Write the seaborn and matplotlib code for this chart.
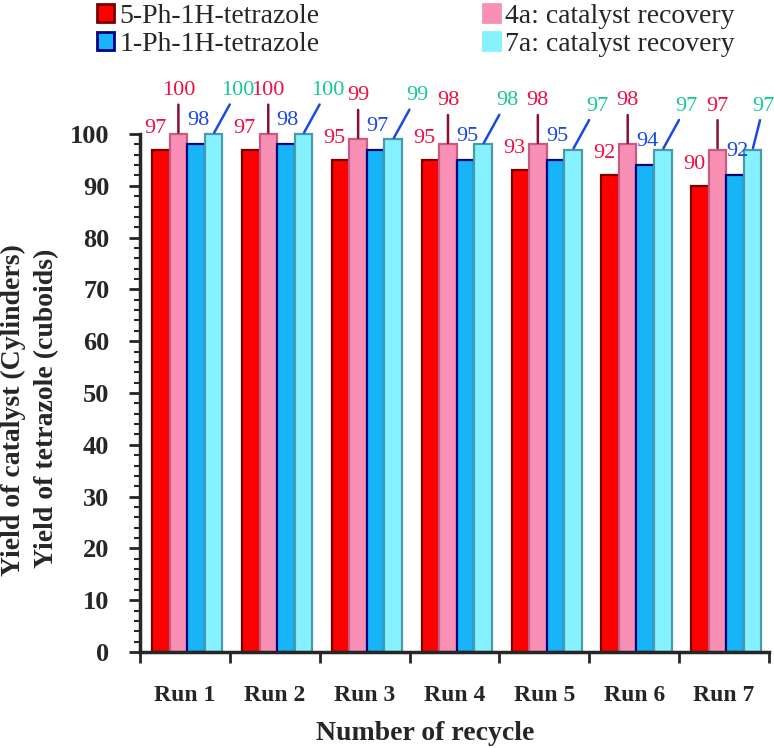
import numpy as np
import pandas as pd
import matplotlib
matplotlib.use("Agg")
import matplotlib.pyplot as plt
from matplotlib.patches import Patch
from matplotlib.ticker import MultipleLocator, FixedLocator
import seaborn as sns

# data
runs = ["Run 1", "Run 2", "Run 3", "Run 4", "Run 5", "Run 6", "Run 7"]
series = ["5-Ph-1H-tetrazole", "4a: catalyst recovery", "1-Ph-1H-tetrazole", "7a: catalyst recovery"]
ph5_tetrazole = [97, 97, 95, 95, 93, 92, 90]
cat_4a = [100, 100, 99, 98, 98, 98, 97]
ph1_tetrazole = [98, 98, 97, 95, 95, 94, 92]
cat_7a = [100, 100, 99, 98, 97, 97, 97]

values = [ph5_tetrazole, cat_4a, ph1_tetrazole, cat_7a]
df = pd.DataFrame({
    "run": runs * 4,
    "series": [s for s in series for _ in runs],
    "yield": [v for vals in values for v in vals],
})

fill = ["#ff0000", "#f790b4", "#18b4f8", "#86f2ff"]
edges = ["#7a0000", "#c85a84", "#000080", "#4a9aaa"]
label_col = ["#ee1045", "#ee1045", "#1a4ae0", "#18c898"]

sns.set_style("ticks")
plt.rcParams["font.family"] = ["Liberation Serif", "DejaVu Serif"]

fig = plt.figure(figsize=(7.74, 7.48), dpi=100)
ax = fig.add_axes([140 / 774, 1 - 652 / 748, 629 / 774, 518 / 748])

sns.barplot(data=df, x="run", y="yield", hue="series", hue_order=series,
            palette=fill, width=0.78, gap=0, legend=False, ax=ax, saturation=1)

for i, cont in enumerate(ax.containers):
    for bar in cont:
        bar.set_x(bar.get_x() + 0.025)
        bar.set_edgecolor(edges[i])
        bar.set_linewidth(1.6)
        bar.set_clip_on(False)

# value labels
for i, cont in enumerate(ax.containers):
    for j, bar in enumerate(cont):
        x = bar.get_x() + bar.get_width() / 2
        h = bar.get_height()
        txt = str(values[i][j])
        if i == 0:
            ax.annotate(txt, (x, h), xytext=(-6, 12), textcoords="offset pixels",
                        ha="center", va="bottom", color=label_col[i], fontsize=16,
                        annotation_clip=False)
        elif i == 2:
            ax.annotate(txt, (x, h), xytext=(2, 14), textcoords="offset pixels",
                        ha="center", va="bottom", color=label_col[i], fontsize=16,
                        annotation_clip=False)
        elif i == 1:
            ax.annotate(txt, (x, h), xytext=(0, 34), textcoords="offset pixels",
                        ha="center", va="bottom", color=label_col[i], fontsize=16,
                        annotation_clip=False,
                        arrowprops=dict(arrowstyle="-", color="#8a1030", lw=1.8,
                                        shrinkA=1, shrinkB=1))
        else:
            dx = 24 if j < len(runs) - 1 else 11
            ax.annotate(txt, (x, h), xytext=(dx, 34), textcoords="offset pixels",
                        ha="center", va="bottom", color=label_col[i], fontsize=16,
                        annotation_clip=False,
                        arrowprops=dict(arrowstyle="-", color="#1a4ae0", lw=1.8,
                                        shrinkA=1, shrinkB=1))

ax.set_ylim(0, 100)
ax.set_xlim(-0.5, 6.5)
ax.yaxis.set_major_locator(MultipleLocator(10))
ax.yaxis.set_minor_locator(MultipleLocator(2))
ax.xaxis.set_minor_locator(FixedLocator(np.arange(-0.5, 7, 1)))
ax.tick_params(axis="y", which="major", length=8, width=2, labelsize=19, direction="out", pad=14)
ax.tick_params(axis="y", which="minor", length=4, width=1.5, direction="out")
ax.tick_params(axis="x", which="major", length=0, pad=24, labelsize=17)
ax.tick_params(axis="x", which="minor", length=8, width=2, direction="out")
for lab in ax.get_xticklabels() + ax.get_yticklabels():
    lab.set_fontweight("bold")

sns.despine(ax=ax)
for sp in ["left", "bottom"]:
    ax.spines[sp].set_linewidth(2.5)
ax.set_xlabel("")
ax.set_ylabel("")

fig.text(13 / 774, 1 - 410 / 748, "Yield of catalyst (Cylinders)", rotation=90,
         ha="center", va="center", fontsize=20, fontweight="bold")
fig.text(47 / 774, 1 - 408 / 748, "Yield of tetrazole (cuboids)", rotation=90,
         ha="center", va="center", fontsize=20, fontweight="bold")
fig.text(425 / 774, 1 - 733 / 748, "Number of recycle", ha="center", va="center",
         fontsize=20, fontweight="bold")

order = [0, 2, 1, 3]
handles = [Patch(facecolor=fill[k], edgecolor=edges[k] if k in (0, 2) else fill[k], linewidth=2)
           for k in order]
fig.legend(handles, [series[k] for k in order], ncol=2, loc="upper left",
           bbox_to_anchor=(72 / 774, 1.028), frameon=False, fontsize=20,
           handlelength=0.6, handleheight=0.6, handletextpad=0.2,
           labelspacing=0.1, columnspacing=5.9)

fig.savefig("out.png", dpi=100)
